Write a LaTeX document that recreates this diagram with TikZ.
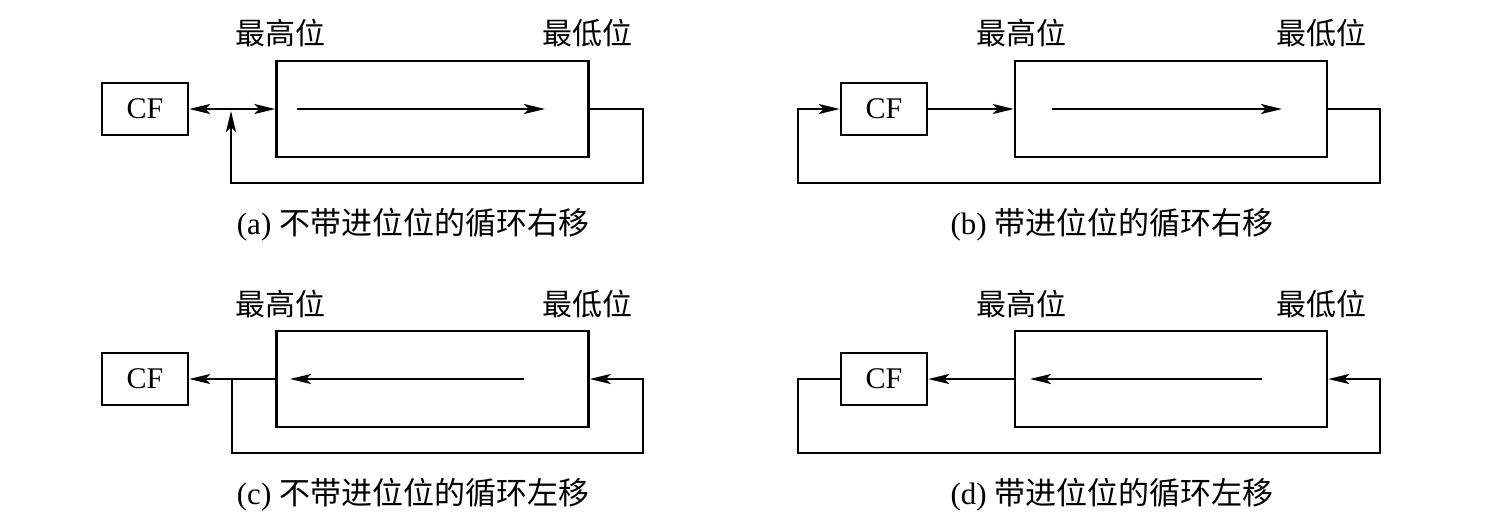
\documentclass[tikz,border=0pt]{standalone}
\usepackage{fontspec}
\setmainfont{Liberation Serif}
\newfontfamily\cjk{Noto Sans CJK SC}
\usetikzlibrary{arrows.meta}
\begin{document}
\begin{tikzpicture}[x=1pt,y=-1pt,
  every node/.style={font=\fontsize{31}{36}\selectfont},
  ln/.style={line width=2.4pt},
  cfbox/.style={draw,line width=2.4pt,minimum width=86pt,minimum height=52pt,inner sep=0pt,font=\fontsize{30}{36}\selectfont},
  regbox/.style={draw,line width=2.4pt,minimum width=312pt,minimum height=96pt,inner sep=0pt},
  stk/.tip={Stealth[length=21pt,width=10pt,inset=5pt]},
  arr/.style={ln,-stk},
  darr/.style={ln,stk-stk},
  lbl/.style={font=\fontsize{30}{34}\selectfont\cjk,inner sep=0pt},
  captext/.style={inner sep=0pt}]
\useasboundingbox (0,0) rectangle (1512,517);
% ---------- (a) ----------
\node[lbl] (ah) at (280,33) {最高位};
\node[lbl] (al) at (587,33) {最低位};
\node[cfbox] (cfa) at (145,109) {CF};
\node[regbox] (rega) at (432.5,109) {};
\coordinate (a1) at (297,109);
\coordinate (a2) at (545,109);
\draw[arr] (a1) -- (a2);
\draw[darr] (cfa.east) -- (rega.west);
\coordinate (aj) at (231,111);
\coordinate (ar) at (643,183);
\coordinate (ab) at (231,183);
\draw[arr] (rega.east) -| (ar) -- (ab) -- (aj);
\node[captext] (capa) at (413,225) {(a) {\cjk 不带进位位的循环右移}};
% ---------- (b) ----------
\node[lbl] (bh) at (1021,33) {最高位};
\node[lbl] (bl) at (1321,33) {最低位};
\node[cfbox] (cfb) at (884,109) {CF};
\node[regbox] (regb) at (1171,109) {};
\coordinate (b1) at (1052,109);
\coordinate (b2) at (1282,109);
\draw[arr] (b1) -- (b2);
\draw[arr] (cfb.east) -- (regb.west);
\coordinate (br) at (1380,183);
\coordinate (bb) at (798,183);
\coordinate (bt) at (798,109);
\draw[arr] (regb.east) -| (br) -- (bb) -- (bt) -- (cfb.west);
\node[captext] (capb) at (1112,225) {(b) {\cjk 带进位位的循环右移}};
% ---------- (c) ----------
\node[lbl] (ch) at (280,304) {最高位};
\node[lbl] (cl) at (587,304) {最低位};
\node[cfbox] (cfc) at (145,379) {CF};
\node[regbox] (regc) at (432.5,379) {};
\coordinate (c1) at (524,379);
\coordinate (c2) at (290,379);
\draw[arr] (c1) -- (c2);
\draw[arr] (regc.west) -- (cfc.east);
\coordinate (cj) at (232,379);
\coordinate (cb) at (232,453);
\coordinate (cr) at (643,453);
\coordinate (ct) at (643,379);
\draw[arr] (cj) -- (cb) -- (cr) -- (ct) -- (regc.east);
\node[captext] (capc) at (413,495) {(c) {\cjk 不带进位位的循环左移}};
% ---------- (d) ----------
\node[lbl] (dh) at (1021,304) {最高位};
\node[lbl] (dl) at (1321,304) {最低位};
\node[cfbox] (cfd) at (884,379) {CF};
\node[regbox] (regd) at (1171,379) {};
\coordinate (d1) at (1262,379);
\coordinate (d2) at (1030,379);
\draw[arr] (d1) -- (d2);
\draw[arr] (regd.west) -- (cfd.east);
\coordinate (dt) at (798,379);
\coordinate (db) at (798,453);
\coordinate (dr) at (1380,453);
\coordinate (drt) at (1380,379);
\draw[arr] (cfd.west) -- (dt) -- (db) -- (dr) -- (drt) -- (regd.east);
\node[captext] (capd) at (1112,495) {(d) {\cjk 带进位位的循环左移}};
\end{tikzpicture}
\end{document}
